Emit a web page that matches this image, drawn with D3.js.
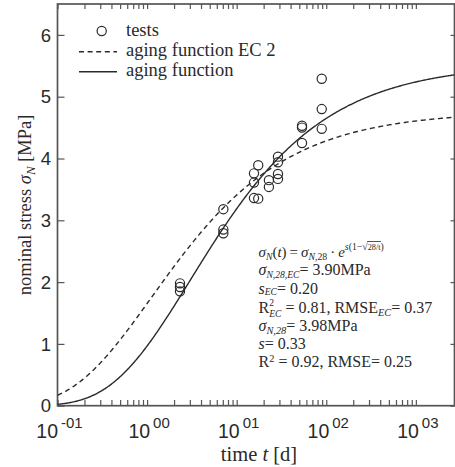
<!DOCTYPE html>
<html>
<head>
<meta charset="utf-8">
<script src="https://cdn.jsdelivr.net/npm/d3@7"></script>
<style>
  html, body { margin: 0; padding: 0; background: #fff; }
  svg { display: block; }
</style>
</head>
<body>
<svg id="chart" width="455" height="467"></svg>
<script>
// ---- data ----------------------------------------------------------------
// concrete age at testing [d] and measured nominal stress [MPa]
const testAge    = [2.33, 2.33, 2.33, 7.1, 7.1, 7.1, 15.6, 15.6, 15.6, 17.4, 17.4,
                    22.9, 22.9, 28.9, 28.9, 28.9, 28.9, 53.6, 53.6, 53.6, 89, 89, 89];
const testStress = [1.98, 1.92, 1.85, 3.18, 2.85, 2.79, 3.76, 3.61, 3.36, 3.89, 3.35,
                    3.65, 3.54, 4.03, 3.94, 3.75, 3.67, 4.53, 4.50, 4.25, 5.29, 4.80, 4.48];

// fitted aging-function parameters: [EC 2, own fit]
const fitNames   = ["aging function EC 2", "aging function"];
const fitSigma28 = [3.90, 3.98];
const fitS       = [0.20, 0.33];
const fitR2      = [0.81, 0.92];
const fitRMSE    = [0.37, 0.25];

const xDomain = [0.1, 2700];
const yDomain = [0, 6.5];
const xMajorExp = [-1, 0, 1, 2, 3];
const yTicks = [0, 1, 2, 3, 4, 5, 6];

// ---- layout ----------------------------------------------------------------
const L = 57.5, T = 4, R = 454.5, B = 405.7;
const svg = d3.select("#chart");
const x = d3.scaleLog().domain(xDomain).range([L, R]);
const y = d3.scaleLinear().domain(yDomain).range([B, T]);

const ink = "#2a2a2a", frame = "#555";
const sans = "'Liberation Sans', Arial, sans-serif";
const serif = "'Liberation Serif', 'DejaVu Serif', serif";

svg.append("defs").append("clipPath").attr("id", "plot")
  .append("rect").attr("x", L).attr("y", T).attr("width", R - L).attr("height", B - T);

// minor + major tick positions on the log axis (1..9 x 10^k up to 10^3)
const xTickVals = [];
for (let k = -1; k <= 2; k++) for (let m = 1; m <= 9; m++) xTickVals.push(m * Math.pow(10, k));
xTickVals.push(1000);

// ticks on all four sides, pointing inward
const bottomAxis = d3.axisBottom(x).tickValues(xTickVals).tickSizeInner(-5.7).tickSizeOuter(0).tickFormat("");
const topAxis = d3.axisTop(x).tickValues(xTickVals).tickSizeInner(-5).tickSizeOuter(0).tickFormat("");
const leftAxis = d3.axisLeft(y).tickValues(yTicks).tickSizeInner(-7).tickSizeOuter(0).tickFormat("");
const rightAxis = d3.axisRight(y).tickValues(yTicks).tickSizeInner(-4).tickSizeOuter(0).tickFormat("");

function styleAxis(g) {
  g.select(".domain").remove();
  g.selectAll(".tick line").attr("stroke", frame).attr("stroke-width", 1.2);
}
svg.append("g").attr("transform", `translate(0,${B})`).call(bottomAxis).call(styleAxis);
svg.append("g").attr("transform", `translate(0,${T})`).call(topAxis).call(styleAxis);
svg.append("g").attr("transform", `translate(${L},0)`).call(leftAxis).call(styleAxis);
svg.append("g").attr("transform", `translate(${R},0)`).call(rightAxis).call(styleAxis);

// frame
svg.append("rect").attr("x", L).attr("y", T).attr("width", R - L).attr("height", B - T)
  .attr("fill", "none").attr("stroke", frame).attr("stroke-width", 1.7);

// x tick labels 10^-01 ... 10^03
xMajorExp.forEach(e => {
  const exp = (e < 0 ? "-" : "") + String(Math.abs(e)).padStart(2, "0");
  const t = svg.append("text").attr("x", x(Math.pow(10, e)) + 2).attr("y", 438.3)
    .attr("text-anchor", "middle").attr("font-family", sans).attr("fill", ink).attr("font-size", 19.5);
  t.append("tspan").text("10");
  t.append("tspan").attr("dx", 3).attr("dy", -10).attr("font-size", 15).text(exp);
});

// y tick labels
yTicks.forEach(v => {
  svg.append("text").attr("x", 51).attr("y", y(v) + 6.6).attr("text-anchor", "end")
    .attr("font-family", sans).attr("font-size", 18.5).attr("fill", ink).text(v);
});

// ---- rich text helper (italics, sub/superscripts) ----------------------------
function rich(xp, yp, size, segs, anchor) {
  const t = svg.append("text").attr("x", xp).attr("y", yp).attr("font-family", serif)
    .attr("font-size", size).attr("fill", ink).attr("text-anchor", anchor || "start");
  let cur = 0;
  segs.forEach(s => {
    const sh = s.sh || 0;
    const sp = t.append("tspan").attr("dy", sh - cur).text(s.t);
    cur = sh;
    if (s.it) sp.attr("font-style", "italic");
    if (s.sc) sp.attr("font-size", size * s.sc);
    if (s.dx) sp.attr("dx", s.dx);
  });
  return t;
}

// axis titles
rich(259, 461, 20.5, [{t: "time "}, {t: "t", it: 1}, {t: " [d]"}], "middle");
const yl = rich(0, 0, 18.5, [{t: "nominal stress "}, {t: "σ", it: 1}, {t: "N", it: 1, sh: 4, sc: 0.7}, {t: " [MPa]"}], "middle");
yl.attr("transform", `translate(31,${(T + B) / 2}) rotate(-90)`);

// ---- curves ---------------------------------------------------------------
const agingFn = (sig28, s) => t => sig28 * Math.exp(s * (1 - Math.sqrt(28 / t)));
const lg0 = Math.log10(xDomain[0]), lg1 = Math.log10(xDomain[1]);
const tGrid = d3.range(0, 401).map(i => Math.pow(10, lg0 + i / 400 * (lg1 - lg0)));
const line = d3.line().x(d => x(d[0])).y(d => y(d[1]));
const dashes = ["5,3.6", null];
fitNames.forEach((name, i) => {
  const f = agingFn(fitSigma28[i], fitS[i]);
  svg.append("path").attr("clip-path", "url(#plot)")
    .attr("d", line(tGrid.map(t => [t, f(t)])))
    .attr("fill", "none").attr("stroke", ink).attr("stroke-width", 1.4)
    .attr("stroke-dasharray", dashes[i]);
});

// test results
svg.append("g").selectAll("circle").data(testAge.map((a, i) => [a, testStress[i]])).join("circle")
  .attr("cx", d => x(d[0])).attr("cy", d => y(d[1])).attr("r", 4.6)
  .attr("fill", "none").attr("stroke", ink).attr("stroke-width", 1.2);

// ---- legend -----------------------------------------------------------------
svg.append("circle").attr("cx", 101.7).attr("cy", 31).attr("r", 4.6)
  .attr("fill", "none").attr("stroke", ink).attr("stroke-width", 1.2);
rich(126, 35.5, 18.5, [{t: "tests"}]);
[51.7, 71.7].forEach((ly, i) => {
  svg.append("line").attr("x1", 79).attr("x2", 117).attr("y1", ly).attr("y2", ly)
    .attr("stroke", ink).attr("stroke-width", 1.4).attr("stroke-dasharray", dashes[i]);
  rich(126, ly + 4.6, 18.5, [{t: fitNames[i]}]);
});

// ---- fit summary -------------------------------------------------------------
const ax = 258.5, fs = 16;
const fmt2 = d3.format(".2f");
const th = "\u2009";
const eqY = 256.5;
const eq = rich(ax, eqY, 15, [
  {t: "σ", it: 1}, {t: "N", it: 1, sh: 3, sc: 0.65}, {t: "(", sh: 0}, {t: "t", it: 1}, {t: ")" + th + "=" + th},
  {t: "σ", it: 1}, {t: "N", it: 1, sh: 3, sc: 0.65}, {t: ",28", sh: 3, sc: 0.65}, {t: th + "·" + th, sh: 0}, {t: "e", it: 1},
  {t: "s", it: 1, sh: -7, sc: 0.65}, {t: "(1−√", sh: -7, sc: 0.65}, {t: "28/t", sh: -7, sc: 0.55}, {t: ")", sh: -7, sc: 0.65}
]);
// radical bar over 28/t
{
  const node = eq.node();
  const i0 = node.textContent.indexOf("28/t");
  const p0 = node.getStartPositionOfChar(i0), p1 = node.getEndPositionOfChar(i0 + 3);
  svg.append("line").attr("x1", p0.x - 0.5).attr("x2", p1.x + 0.5).attr("y1", eqY - 15).attr("y2", eqY - 15)
    .attr("stroke", ink).attr("stroke-width", 0.8);
}
rich(ax, 275, fs, [{t: "σ", it: 1}, {t: "N,28,EC", it: 1, sh: 2.5, sc: 0.6}, {t: "= " + fmt2(fitSigma28[0]) + "MPa", sh: 0}]);
rich(ax, 293.5, fs, [{t: "s", it: 1}, {t: "EC", it: 1, sh: 1.8, sc: 0.6}, {t: "= " + fmt2(fitS[0]), sh: 0}]);
// R² with the EC index set under the exponent
rich(ax, 313, fs, [{t: "R"}, {t: "2", sh: -7, sc: 0.6}, {t: "EC", it: 1, sh: 4, sc: 0.6, dx: -4.8},
  {t: " = " + fmt2(fitR2[0]) + ", RMSE", sh: 0}, {t: "EC", it: 1, sh: 3, sc: 0.65}, {t: "= " + fmt2(fitRMSE[0]), sh: 0}]);
rich(ax, 330.5, fs, [{t: "σ", it: 1}, {t: "N,28", it: 1, sh: 3, sc: 0.65}, {t: "= " + fmt2(fitSigma28[1]) + "MPa", sh: 0}]);
rich(ax, 348.5, fs, [{t: "s", it: 1}, {t: "= " + fmt2(fitS[1])}]);
rich(ax, 366.5, fs, [{t: "R"}, {t: "2", sh: -5, sc: 0.65}, {t: " = " + fmt2(fitR2[1]) + ", RMSE= " + fmt2(fitRMSE[1]), sh: 0}]);
</script>
</body>
</html>
